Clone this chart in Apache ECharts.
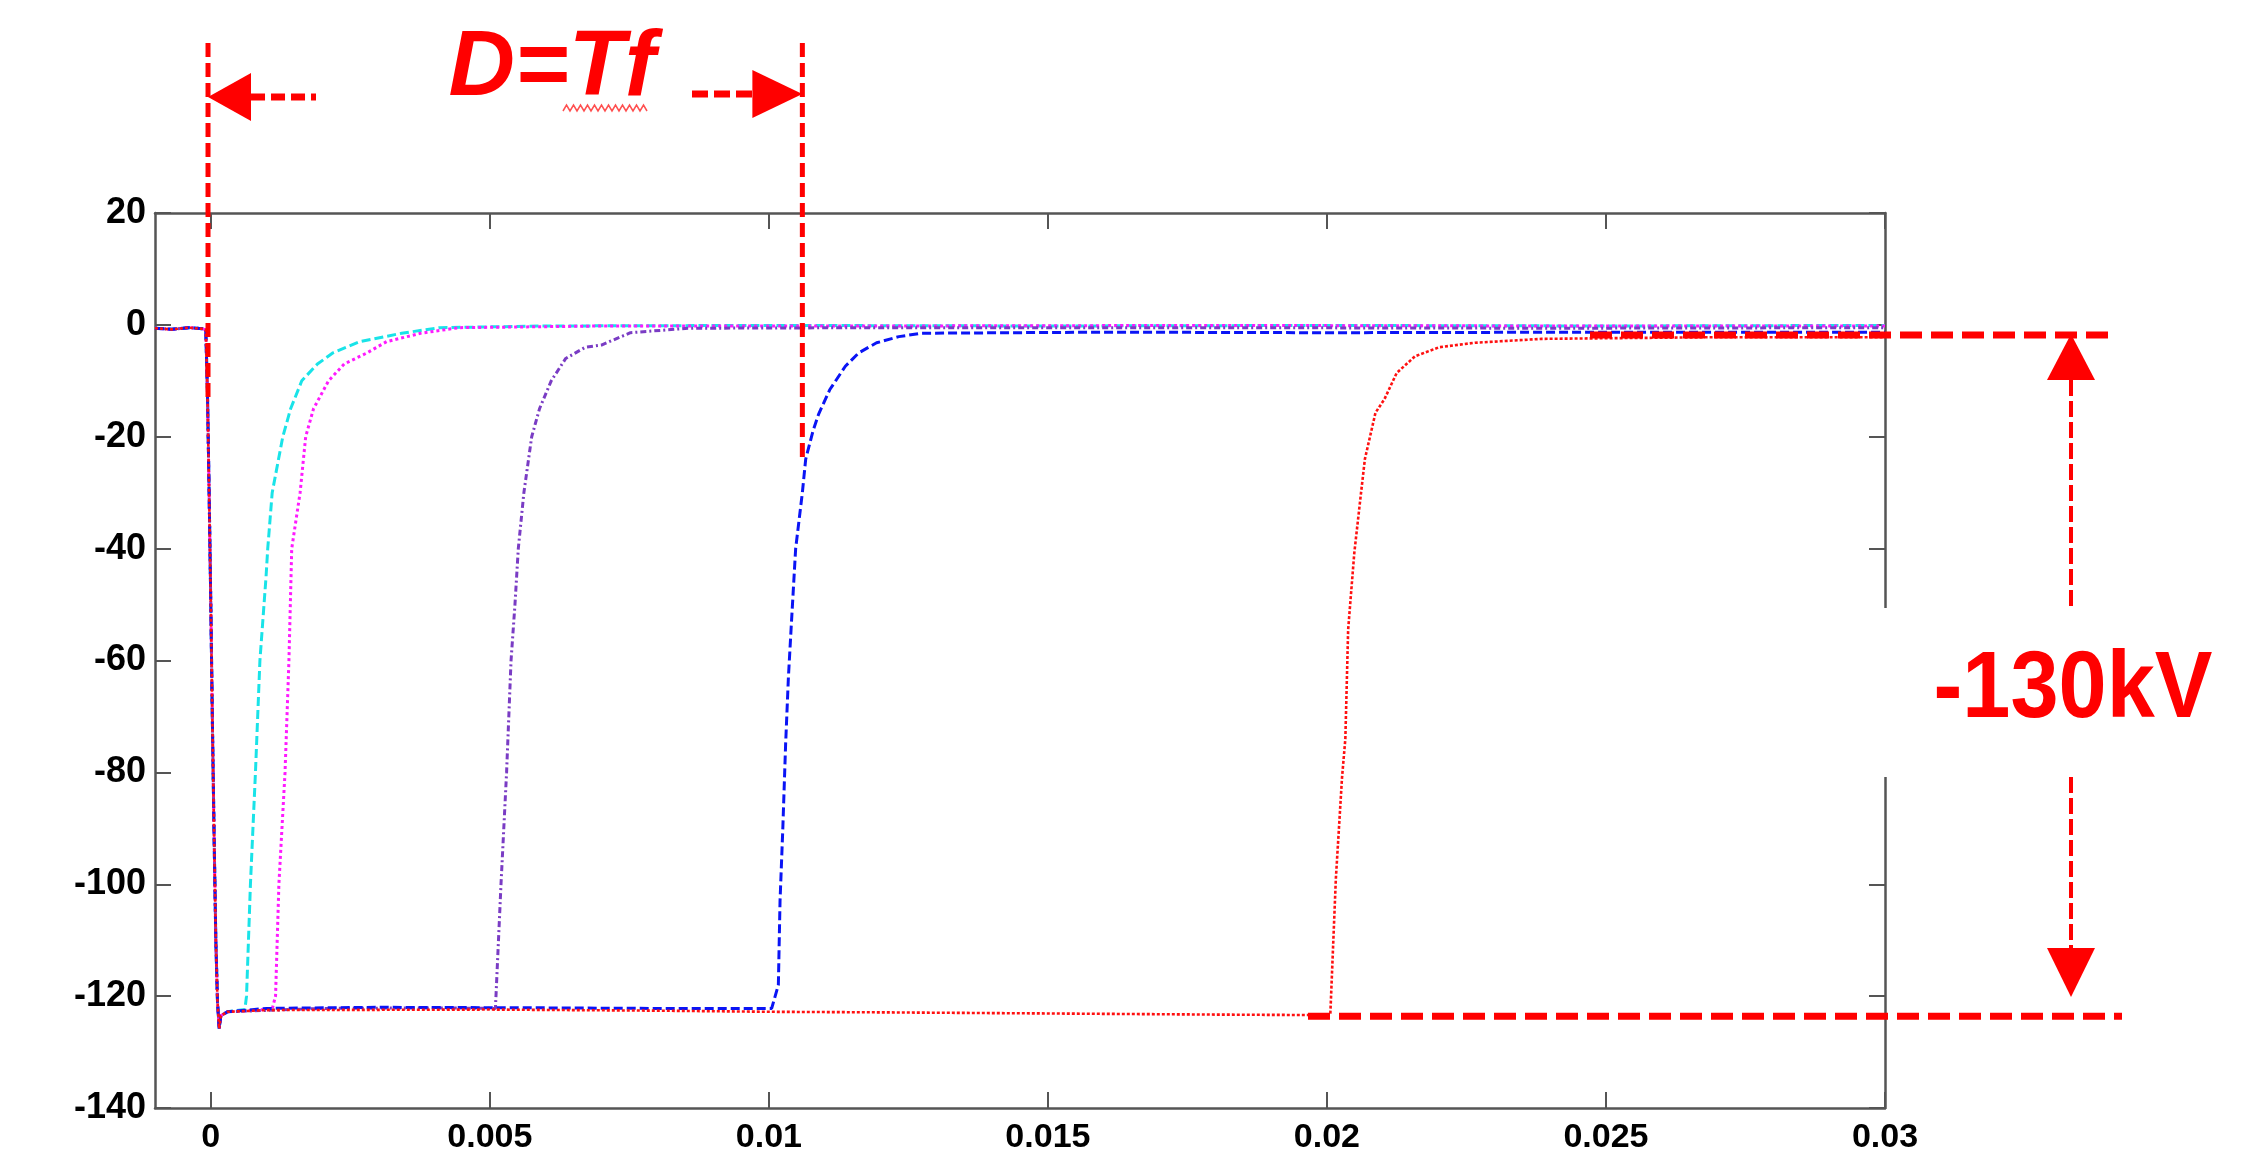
<!DOCTYPE html>
<html>
<head>
<meta charset="utf-8">
<title>D=Tf</title>
<script src="https://cdn.jsdelivr.net/npm/echarts@6/dist/echarts.min.js"></script>
<style>html,body{margin:0;padding:0;background:#fff}#chart{width:2248px;height:1162px}</style>
</head>
<body>
<div id="chart"></div>
<script>
// tick positions
const xTicks = [0, 0.005, 0.01, 0.015, 0.02, 0.025, 0.03];

// common front: all five records drop together at t = 0 (s, kV)
const frontT = [-0.001, -0.0007, -0.0004, -0.00015, -0.00009, -0.00006, -0.00003, 0, 0.00003, 0.00006, 0.00009, 0.00012, 0.00015, 0.00018, 0.0003];
const frontV = [-0.6, -0.8, -0.5, -0.7, -0.9, -12, -30, -50, -72, -92, -110, -121, -125.8, -123.5, -122.8];

// recovery of each record
const cyanT = [0.00061, 0.00064, 0.00071, 0.0008, 0.00088, 0.00099, 0.00102, 0.0011, 0.00129, 0.00143, 0.00163, 0.00191, 0.00219, 0.00267, 0.00342, 0.0041, 0.006, 0.01, 0.015, 0.02, 0.025, 0.03];
const cyanV = [-122.4, -120, -100, -80, -60, -45, -40, -30, -20, -15, -10, -7, -5, -3, -1.5, -0.5, -0.2, -0.1, -0.2, -0.1, -0.2, -0.1];

const magentaT = [0.0011, 0.00116, 0.00122, 0.00133, 0.0014, 0.00145, 0.0016, 0.0017, 0.00184, 0.00211, 0.00239, 0.0028, 0.00315, 0.00376, 0.00445, 0.007, 0.012, 0.018, 0.024, 0.03];
const magentaV = [-122.3, -120, -100, -80, -60, -40, -30, -20, -15, -10, -7, -5, -3, -1.5, -0.5, -0.2, -0.2, -0.1, -0.2, -0.2];

const purpleT = [0.002, 0.004, 0.0051, 0.0052, 0.0053, 0.00538, 0.00545, 0.00551, 0.00561, 0.00575, 0.00589, 0.0061, 0.00636, 0.00671, 0.0070, 0.00752, 0.00855, 0.012, 0.018, 0.024, 0.03];
const purpleV = [-122.2, -122.1, -122.2, -100, -80, -60, -50, -40, -30, -20, -15, -10, -6, -4, -3.6, -1.4, -0.6, -0.5, -0.5, -0.6, -0.5];

const blueT = [0.001, 0.003, 0.006, 0.008, 0.01005, 0.01017, 0.0102, 0.01025, 0.0103, 0.01035, 0.0104, 0.01048, 0.0106, 0.01066, 0.01079, 0.01089, 0.01109, 0.01137, 0.01161, 0.01193, 0.01233, 0.01272, 0.016, 0.02, 0.025, 0.03];
const blueV = [-122.2, -122.0, -122.1, -122.2, -122.2, -118, -103, -90, -75, -63, -54, -40, -30, -24, -19, -16, -11.6, -7.4, -5, -3.2, -2.1, -1.5, -1.3, -1.4, -1.3, -1.3];

const redT = [0.001, 0.005, 0.008, 0.01, 0.012, 0.015, 0.018, 0.02006, 0.02016, 0.02027, 0.02033, 0.02038, 0.02049, 0.0206, 0.02068, 0.02087, 0.02103, 0.02125, 0.02158, 0.02201, 0.02265, 0.02385, 0.027, 0.03];
const redV = [-122.5, -122.4, -122.6, -122.8, -122.9, -123.1, -123.3, -123.4, -99, -81, -74, -54.5, -40.8, -31, -24, -15.7, -13.3, -8.6, -5.6, -4, -3.2, -2.5, -2.2, -2.2];

function build(tt, vv) {
  const pts = frontT.map((t, i) => [t, frontV[i]]);
  tt.forEach((t, i) => pts.push([t, vv[i]]));
  return pts;
}

const axisColor = '#555';
const labelStyle = { color: '#000', fontWeight: 'bold', fontFamily: 'Liberation Sans' };
const frame = { onZero: false, show: true, lineStyle: { color: axisColor, width: 2.5 } };
const ticks = { show: true, inside: true, length: 16, lineStyle: { color: axisColor, width: 2 } };

const chart = echarts.init(document.getElementById('chart'));

function trace(name, color, dash, width, tt, vv) {
  return {
    name: name, type: 'line', showSymbol: false, symbol: 'none',
    xAxisIndex: 0, yAxisIndex: 0,
    lineStyle: { color: color, width: width, type: dash },
    data: build(tt, vv)
  };
}

chart.setOption({
  animation: false,
  backgroundColor: '#fff',
  grid: { left: 155, right: 363, top: 213, bottom: 54 },
  xAxis: [{
    type: 'value', min: -0.001, max: 0.03, position: 'bottom',
    axisLine: frame,
    axisTick: Object.assign({ customValues: xTicks }, ticks),
    axisLabel: Object.assign({ customValues: xTicks, margin: 13, fontSize: 34, formatter: v => String(v) }, labelStyle),
    splitLine: { show: false }
  }, {
    type: 'value', min: -0.001, max: 0.03, position: 'top',
    axisLine: frame,
    axisTick: Object.assign({ customValues: xTicks }, ticks),
    axisLabel: { show: false },
    splitLine: { show: false }
  }],
  yAxis: [{
    type: 'value', min: -140, max: 20, interval: 20, position: 'left',
    axisLine: frame,
    axisTick: ticks,
    axisLabel: Object.assign({ margin: 9, fontSize: 36 }, labelStyle),
    splitLine: { show: false }
  }, {
    type: 'value', min: -140, max: 20, interval: 20, position: 'right',
    axisLine: frame,
    axisTick: ticks,
    axisLabel: { show: false },
    splitLine: { show: false }
  }],
  series: [
    trace('cyan', '#19E3E8', [9, 4], 3, cyanT, cyanV),
    trace('magenta', '#FF1AFF', [3, 3], 3, magentaT, magentaV),
    trace('purple', '#7A3CC4', [6, 3, 2, 3], 3, purpleT, purpleV),
    trace('blue', '#0A14F5', [9, 4], 3, blueT, blueV),
    trace('red', '#FF1010', [3, 2], 2.6, redT, redV)
  ]
});

// annotation anchors in data units
const tStart = -0.00005, tEnd = 0.0106;
const vTop = -1.8, vBottom = -123.6;
const px = p => chart.convertToPixel({ xAxisIndex: 0, yAxisIndex: 0 }, p);
const xS = px([tStart, 0])[0], xE = px([tEnd, 0])[0];
const yTop = px([0, vTop])[1], yBot = px([0, vBottom])[1];

const red = '#FF0000';
const dashLine = (x1, y1, x2, y2, w, dash) => ({
  type: 'line', z: 102, shape: { x1: x1, y1: y1, x2: x2, y2: y2 },
  style: { stroke: red, lineWidth: w, lineDash: dash }
});
const tri = pts => ({ type: 'polygon', z: 102, shape: { points: pts }, style: { fill: red } });

const squiggle = [];
for (let x = 563, k = 0; x <= 649; x += 3.5, k++) squiggle.push([x, k % 2 ? 105 : 111]);

const xArrow = 2071;
chart.setOption({
  graphic: [
    dashLine(xS, 43, xS, 400, 5, [14, 6]),
    dashLine(xE, 43, xE, 463, 5, [14, 6]),
    tri([[xS, 97], [xS + 43, 73], [xS + 43, 121]]),
    dashLine(xS + 43, 97, 316, 97, 7, [14, 6]),
    dashLine(692, 94, xE - 48, 94, 7, [16, 6]),
    tri([[xE, 94], [xE - 50, 70], [xE - 50, 118]]),
    { type: 'text', z: 103, x: 552, y: 70,
      style: { text: 'D=Tf', fill: red, font: 'italic bold 92px "Liberation Sans"', align: 'center', verticalAlign: 'middle' } },
    { type: 'polyline', z: 103, shape: { points: squiggle }, style: { stroke: '#FF5050', lineWidth: 1.5, fill: null } },
    dashLine(1590, yTop, 2110, yTop, 7, [22, 9]),
    dashLine(1308, yBot, 2122, yBot, 7, [22, 9]),
    { type: 'rect', z: 101, shape: { x: 1860, y: 608, width: 380, height: 169 }, style: { fill: '#fff' } },
    tri([[xArrow, yTop - 1], [xArrow - 24, yTop + 45], [xArrow + 24, yTop + 45]]),
    dashLine(xArrow, yTop + 45, xArrow, 608, 4, [16, 5]),
    dashLine(xArrow, 777, xArrow, 948, 4, [16, 5]),
    tri([[xArrow, 997], [xArrow - 24, 948], [xArrow + 24, 948]]),
    { type: 'text', z: 103, x: 2073, y: 691, scaleX: 0.92,
      style: { text: '-130kV', fill: red, font: 'bold 94px "Liberation Sans"', align: 'center', verticalAlign: 'middle' } }
  ]
});
</script>
</body>
</html>
